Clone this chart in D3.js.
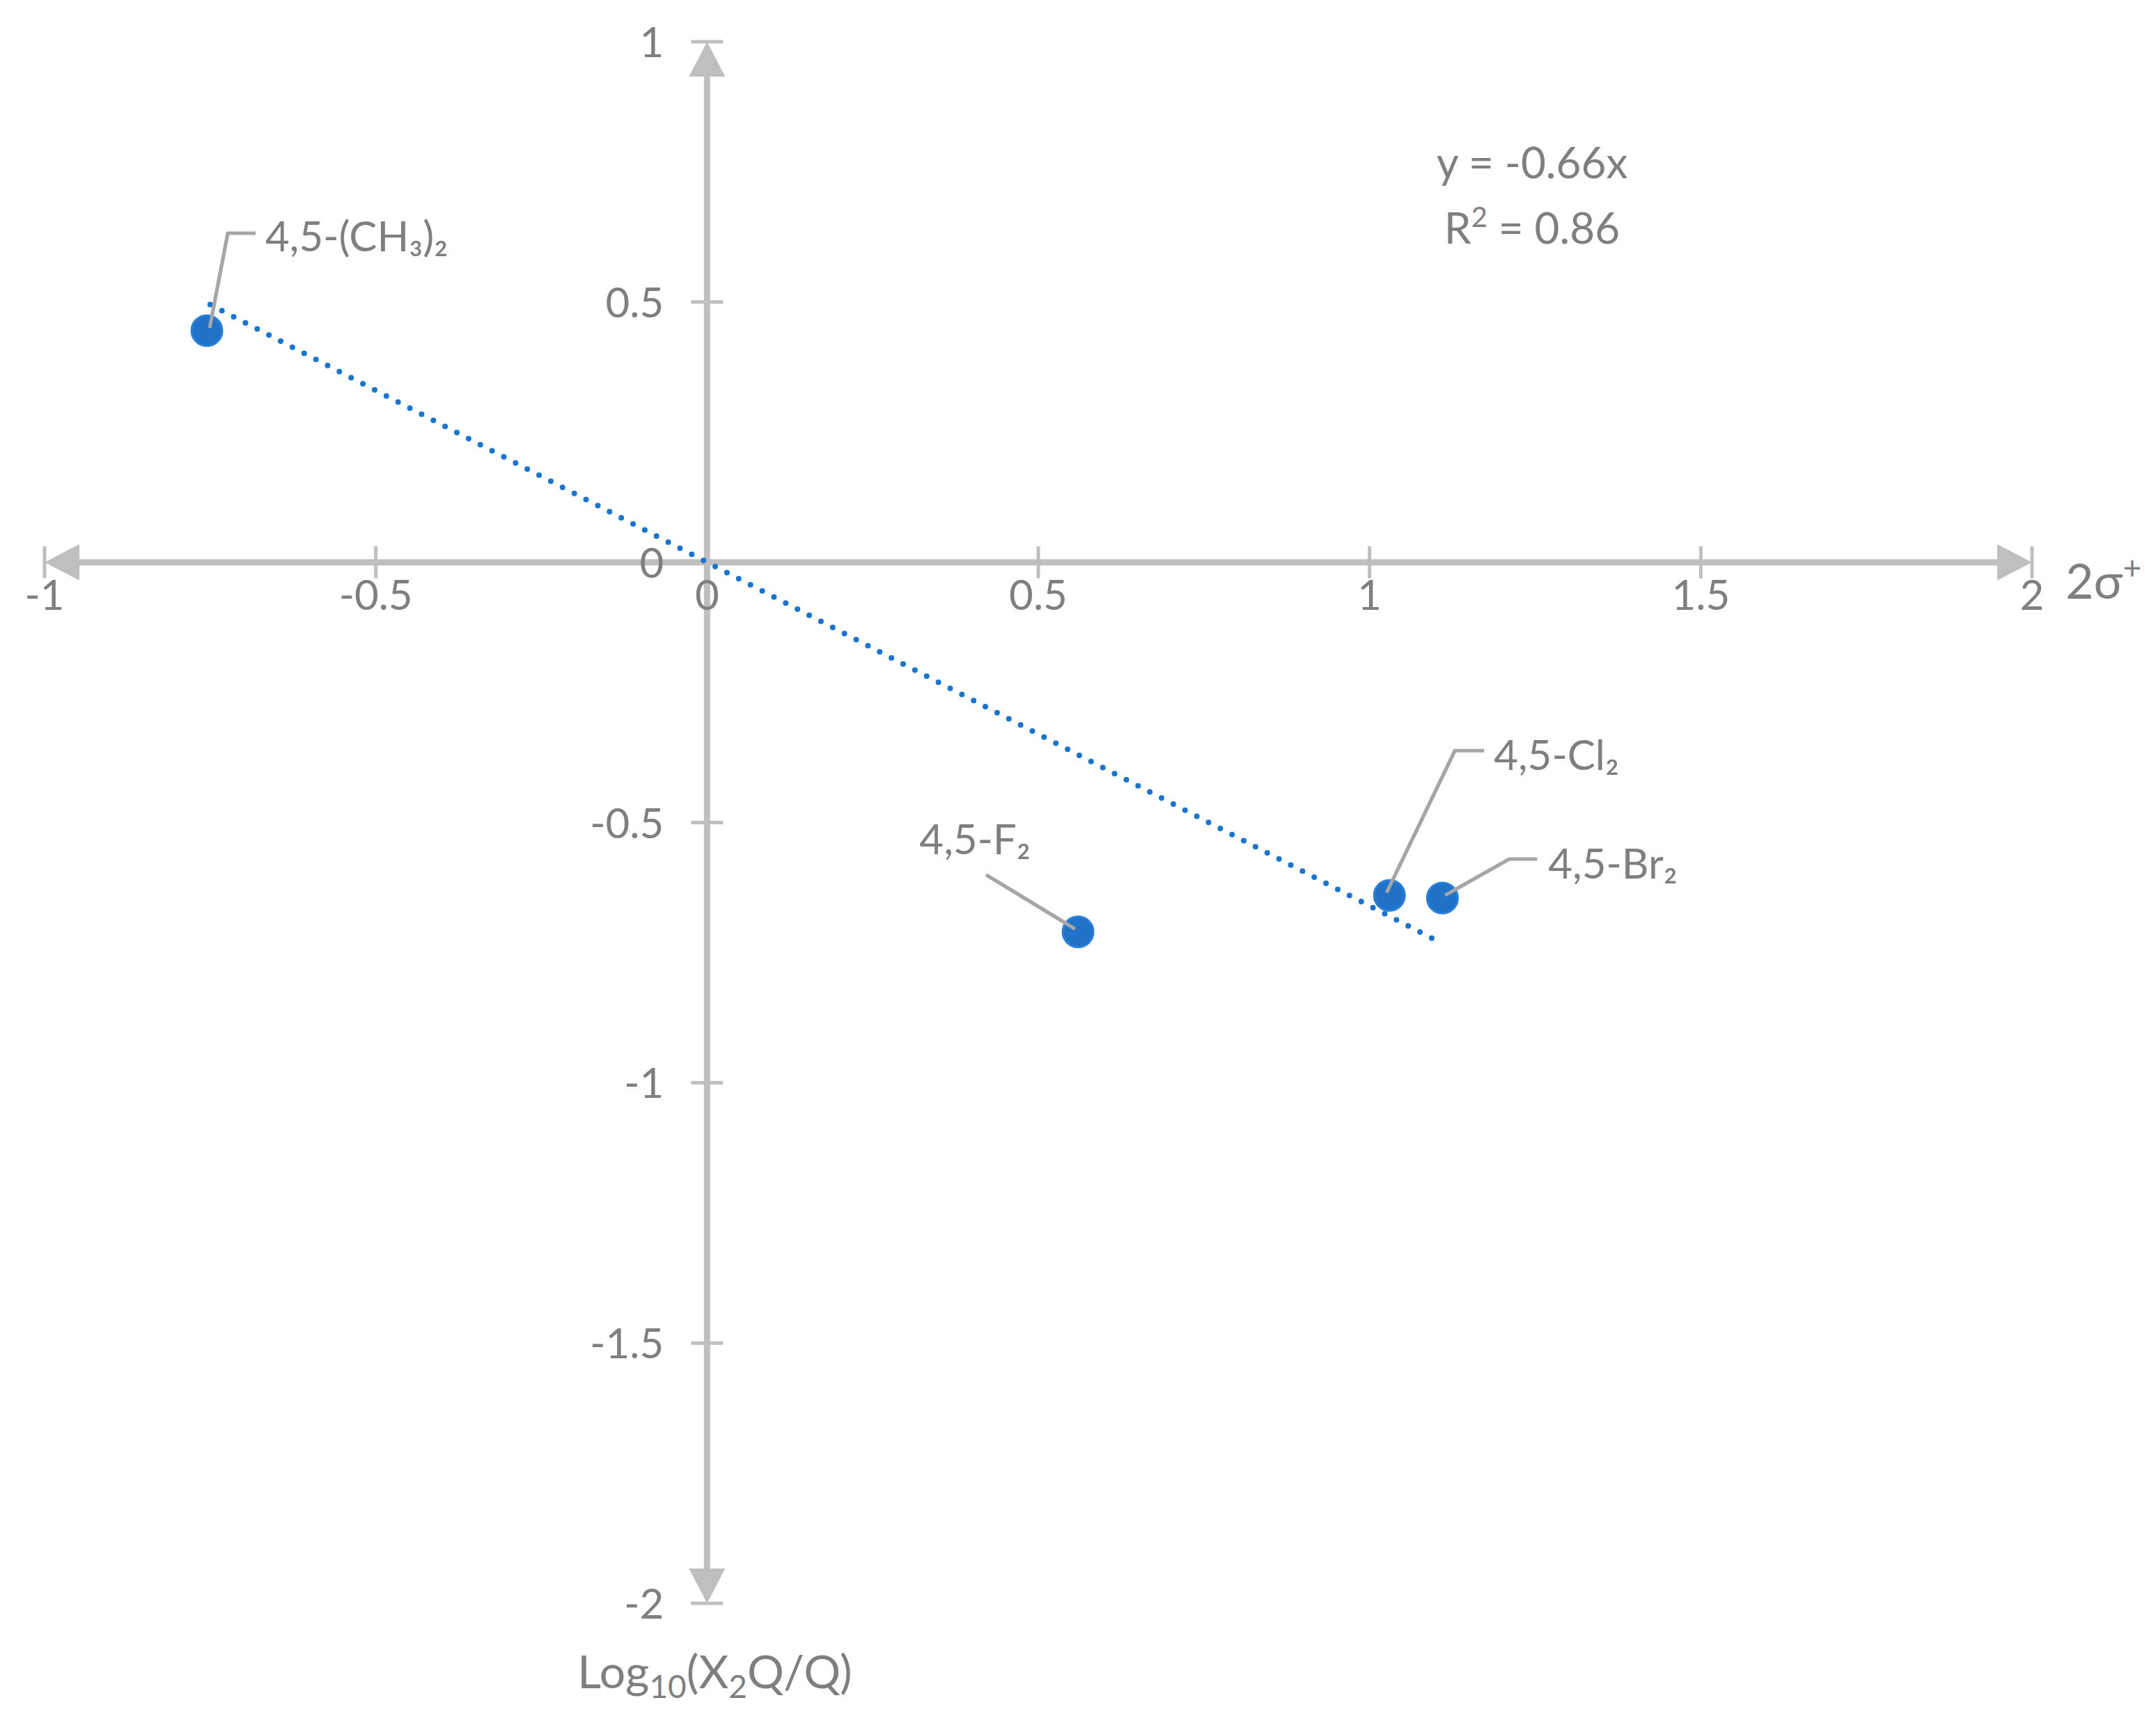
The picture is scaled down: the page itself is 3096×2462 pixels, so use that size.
<!DOCTYPE html>
<html>
<head>
<meta charset="utf-8">
<script src="https://cdn.jsdelivr.net/npm/d3@7"></script>
<style>
  body { margin: 0; background: #fff; }
  text { font-family: Lato, "Open Sans", sans-serif; fill: #7f7f7f; }
</style>
</head>
<body>
<svg id="chart" width="3096" height="2462"></svg>
<script>
// data
const xTicks = [-1, -0.5, 0, 0.5, 1, 1.5, 2];
const yTicks = [-2, -1.5, -1, -0.5, 0, 0.5, 1];
const compounds = ['4,5-(CH₃)₂', '4,5-F₂', '4,5-Cl₂', '4,5-Br₂'];
const sigmaValues = [-0.755, 0.56, 1.03, 1.11];
const logValues = [0.445, -0.71, -0.64, -0.645];
const slope = -0.66;
const trendRange = [-0.75, 1.1];

const svg = d3.select('#chart');
const x = d3.scaleLinear().domain([-1, 2]).range([64, 2918]);
const y = d3.scaleLinear().domain([-2, 1]).range([2303, 60]);
const axisColor = '#bfbfbf';

// axes as lines through origin
svg.append('line')
  .attr('x1', x(-1) + 30).attr('x2', x(2) - 30)
  .attr('y1', y(0)).attr('y2', y(0))
  .attr('stroke', axisColor).attr('stroke-width', 9);
svg.append('line')
  .attr('x1', x(0)).attr('x2', x(0))
  .attr('y1', y(1) + 30).attr('y2', y(-2) - 30)
  .attr('stroke', axisColor).attr('stroke-width', 9);

// arrow heads
const ah = 50, aw = 26;
const arrows = [
  [[x(-1), y(0)], [x(-1) + ah, y(0) - aw], [x(-1) + ah, y(0) + aw]],
  [[x(2), y(0)], [x(2) - ah, y(0) - aw], [x(2) - ah, y(0) + aw]],
  [[x(0), y(1)], [x(0) - aw, y(1) + ah], [x(0) + aw, y(1) + ah]],
  [[x(0), y(-2)], [x(0) - aw, y(-2) - ah], [x(0) + aw, y(-2) - ah]]
];
svg.selectAll('polygon.arrow').data(arrows).enter().append('polygon')
  .attr('points', d => d.map(p => p.join(',')).join(' '))
  .attr('fill', axisColor);

// ticks
svg.selectAll('line.xt').data(xTicks).enter().append('line')
  .attr('x1', d => x(d)).attr('x2', d => x(d))
  .attr('y1', y(0) - 23).attr('y2', y(0) + 23)
  .attr('stroke', axisColor).attr('stroke-width', 5);
svg.selectAll('line.yt').data(yTicks).enter().append('line')
  .attr('x1', x(0) - 23).attr('x2', x(0) + 23)
  .attr('y1', d => y(d)).attr('y2', d => y(d))
  .attr('stroke', axisColor).attr('stroke-width', 5);

// tick labels
const fmt = d => String(d);
svg.selectAll('text.xl').data(xTicks).enter().append('text')
  .attr('x', d => x(d)).attr('y', y(0) + 68)
  .attr('text-anchor', 'middle').attr('font-size', 60).text(fmt);
svg.selectAll('text.yl').data(yTicks).enter().append('text')
  .attr('x', x(0) - 62).attr('y', d => y(d) + 22)
  .attr('text-anchor', 'end').attr('font-size', 60).text(fmt);

// axis titles
svg.append('text').attr('x', 2966).attr('y', y(0) + 52)
  .attr('font-size', 70).html('2σ<tspan dy="-28" font-size="46">+</tspan>');
const yt = svg.append('text').attr('x', x(0) - 186).attr('y', 2425).attr('font-size', 66);
yt.append('tspan').text('Log');
yt.append('tspan').attr('dy', 14).attr('font-size', 46).text('10');
yt.append('tspan').attr('dy', -14).text('(X');
yt.append('tspan').attr('dy', 14).attr('font-size', 46).text('2');
yt.append('tspan').attr('dy', -14).text('Q/Q)');

// trendline (dotted)
svg.append('line')
  .attr('x1', x(trendRange[0])).attr('y1', y(slope * trendRange[0]))
  .attr('x2', x(trendRange[1])).attr('y2', y(slope * trendRange[1]))
  .attr('stroke', '#1874cd').attr('stroke-width', 8)
  .attr('stroke-linecap', 'round').attr('stroke-dasharray', '0 19');

// equation
svg.append('text').attr('x', 2200).attr('y', 256).attr('text-anchor', 'middle')
  .attr('font-size', 62).text('y = -0.66x');
svg.append('text').attr('x', 2200).attr('y', 350).attr('text-anchor', 'middle')
  .attr('font-size', 62).html('R<tspan dy="-24" font-size="40">2</tspan><tspan dy="24"> = 0.86</tspan>');

// leader lines: offsets from point in pixels
const leaders = [
  { pts: [[4, -4], [30, -140], [70, -140]], lx: 84, ly: -114, anchor: 'start' },
  { pts: [[-4, -4], [-132, -82]], lx: -148, ly: -112, anchor: 'middle' },
  { pts: [[-4, -4], [94, -208], [136, -208]], lx: 150, ly: -180, anchor: 'start' },
  { pts: [[4, -4], [96, -56], [136, -56]], lx: 152, ly: -28, anchor: 'start' }
];
const pts = compounds.map((c, i) => ({ name: c, px: x(sigmaValues[i]), py: y(logValues[i]), l: leaders[i] }));

svg.selectAll('path.leader').data(pts).enter().append('path')
  .attr('d', d => 'M' + d.l.pts.map(p => [d.px + p[0], d.py + p[1]].join(',')).join('L'))
  .attr('fill', 'none').attr('stroke', '#a6a6a6').attr('stroke-width', 5);

svg.selectAll('circle.pt').data(pts).enter().append('circle')
  .attr('cx', d => d.px).attr('cy', d => d.py).attr('r', 22)
  .attr('fill', '#1f72c8').attr('stroke', '#2a80d8').attr('stroke-width', 3);

svg.selectAll('path.leader2').data(pts).enter().append('path')
  .attr('d', d => 'M' + d.l.pts.slice(0, 2).map(p => [d.px + p[0], d.py + p[1]].join(',')).join('L'))
  .attr('fill', 'none').attr('stroke', '#a6a6a6').attr('stroke-width', 5);

svg.selectAll('text.lab').data(pts).enter().append('text')
  .attr('x', d => d.px + d.l.lx).attr('y', d => d.py + d.l.ly)
  .attr('text-anchor', d => d.l.anchor).attr('font-size', 60)
  .text(d => d.name);
</script>
</body>
</html>
